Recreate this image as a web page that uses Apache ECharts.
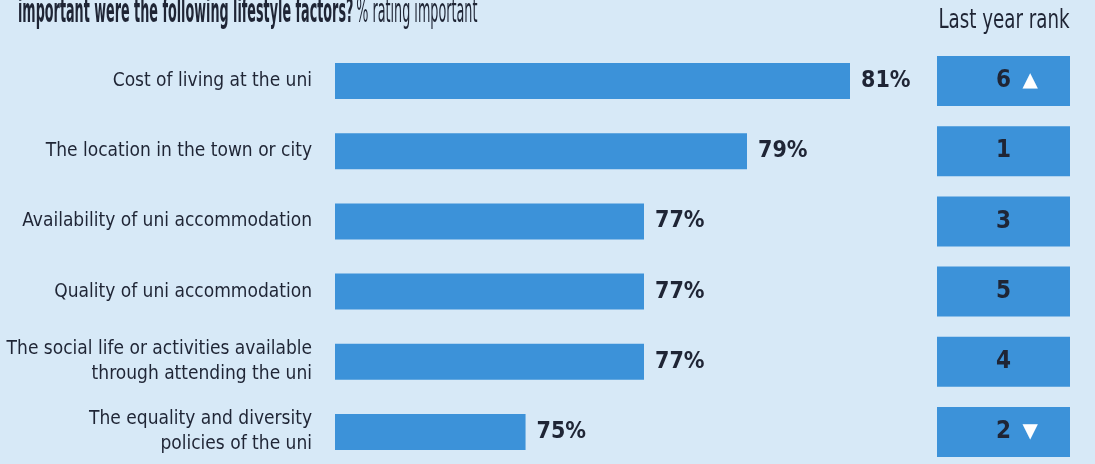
<!DOCTYPE html>
<html>
<head>
<meta charset="utf-8">
<script src="https://cdn.jsdelivr.net/npm/echarts@6/dist/echarts.min.js"></script>
<style>
  html, body { margin: 0; padding: 0; background: #d7e9f7; }
  #chart { width: 1095px; height: 464px; }
</style>
</head>
<body>
<div id="chart"></div>
<script>
const categories = [
  'Cost of living at the uni',
  'The location in the town or city',
  'Availability of uni accommodation',
  'Quality of uni accommodation',
  'The social life or activities available\nthrough attending the uni',
  'The equality and diversity\npolicies of the uni'
]
const pctImportant = [81, 79, 77, 77, 77, 74.7]
const lastYearRank = [6, 1, 3, 5, 4, 2]
const rankMove = ['up', '', '', '', '', 'down']

const BG = '#d7e9f7'
const BAR = '#3c92d9'
const INK = '#1f2535'
const FONT = "'Liberation Sans Narrow', 'DejaVu Sans Condensed', 'Roboto Condensed', sans-serif"

const chart = echarts.init(document.getElementById('chart'))

const rankData = lastYearRank.map((r, i) => ({ value: 1, rank: r, move: rankMove[i] }))

chart.setOption({
  backgroundColor: BG,
  animation: false,
  // titles drawn squeezed to mimic the very condensed display face
  graphic: [
    {
      type: 'text', x: 18, y: 13, scaleX: 0.43,
      style: {
        text: '{b|important were the following lifestyle factors?}  {l|% rating important}',
        verticalAlign: 'middle',
        rich: {
          b: { fontFamily: FONT, fontWeight: 'bold', fontSize: 33, fill: INK },
          l: { fontFamily: FONT, fontWeight: 'normal', fontSize: 33, fill: INK }
        }
      }
    },
    {
      type: 'text', x: 1004, y: 21, scaleX: 0.78,
      style: {
        text: 'Last year rank',
        align: 'center', verticalAlign: 'middle',
        font: "normal 26px 'Liberation Sans Narrow', 'DejaVu Sans Condensed', sans-serif",
        fill: INK
      }
    }
  ],
  grid: [
    { left: 335, top: 46, width: 515, height: 421, outerBoundsMode: 'none' },
    { left: 937, top: 46, width: 133, height: 421, outerBoundsMode: 'none' }
  ],
  xAxis: [
    { gridIndex: 0, type: 'value', min: 71, max: 81, show: false },
    { gridIndex: 1, type: 'value', min: 0, max: 1, show: false }
  ],
  yAxis: [
    {
      gridIndex: 0, type: 'category', data: categories, inverse: true,
      axisLine: { show: false }, axisTick: { show: false },
      axisLabel: { margin: 23, fontFamily: FONT, fontSize: 19, lineHeight: 25, color: INK }
    },
    { gridIndex: 1, type: 'category', data: categories, inverse: true, show: false }
  ],
  series: [
    {
      type: 'bar', xAxisIndex: 0, yAxisIndex: 0,
      data: pctImportant, barWidth: 36,
      itemStyle: { color: BAR },
      label: {
        show: true, position: 'right', distance: 11,
        formatter: p => Math.round(p.value) + '%',
        fontFamily: FONT, fontWeight: 'bold', fontSize: 23, color: INK
      }
    },
    {
      type: 'bar', xAxisIndex: 1, yAxisIndex: 1,
      data: rankData, barWidth: 50,
      itemStyle: { color: BAR },
      label: {
        show: true, position: 'inside',
        formatter: p => {
          const d = rankData[p.dataIndex]
          if (!d.move) return '{n|' + d.rank + '}'
          const arrow = d.move === 'up' ? '▲' : '▼'
          return '{h|' + arrow + '}{n|' + d.rank + '}{t|' + arrow + '}'
        },
        rich: {
          n: { fontFamily: FONT, fontWeight: 'bold', fontSize: 24, color: INK, width: 38, align: 'center' },
          t: { fontFamily: 'DejaVu Sans', fontSize: 20, color: '#ffffff' },
          h: { fontFamily: 'DejaVu Sans', fontSize: 20, color: 'rgba(0,0,0,0)' }
        }
      }
    }
  ]
})
</script>
</body>
</html>
